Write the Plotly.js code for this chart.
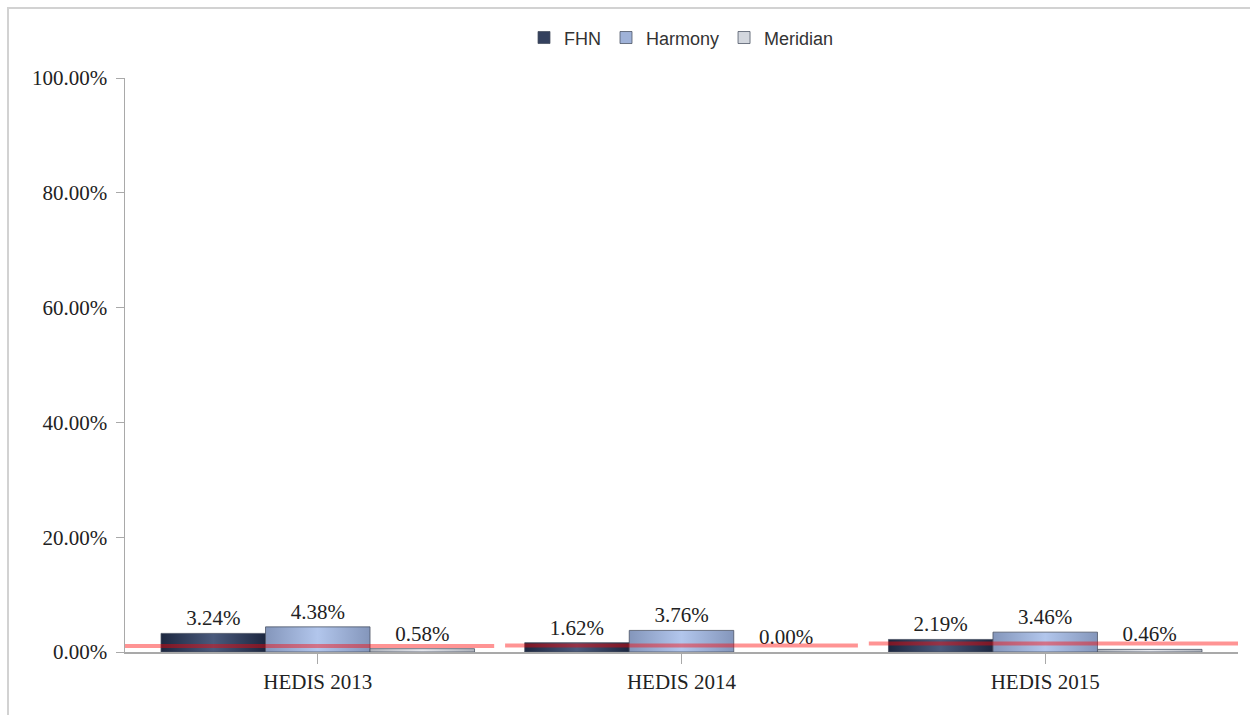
<!DOCTYPE html>
<html>
<head>
<meta charset="utf-8">
<script src="https://cdn.plot.ly/plotly-3.0.1.min.js"></script>
<style>
  html, body { margin: 0; padding: 0; background: #ffffff; overflow: hidden; }
  #frame { position: absolute; left: 7px; top: 7px; width: 1300px; height: 760px;
           border-top: 2px solid #d2d2d2; border-left: 2px solid #d2d2d2; }
  #chart { position: absolute; left: 0; top: 0; width: 1250px; height: 715px; }
</style>
</head>
<body>
<div id="frame"></div>
<div id="chart"></div>
<script>
// ---- data (percent values) ----
const categories = ["HEDIS 2013", "HEDIS 2014", "HEDIS 2015"];
const seriesNames = ["FHN", "Harmony", "Meridian"];
const fhnValues = [3.24, 1.62, 2.19];
const harmonyValues = [4.38, 3.76, 3.46];
const meridianValues = [0.58, 0.00, 0.46];
const benchmarkValues = [1.05, 1.13, 1.48];
const yTickValues = [0, 20, 40, 60, 80, 100];

const seriesValues = [fhnValues, harmonyValues, meridianValues];
const baseColors = ["#34415e", "#9fb2d8", "#d3d7de"];
const gradStops = [
  ["#1c2740", "#4a5a7c", "#1c2740"],
  ["#8496bb", "#b2c6ec", "#8496bb"],
  ["#aeb3bc", "#e6e8ee", "#aeb3bc"]
];

const serif = "Liberation Serif, Times New Roman, serif";
const sans = "Liberation Sans, Arial, sans-serif";

const traces = seriesNames.map((name, k) => ({
  type: "bar",
  name: name,
  x: categories,
  y: seriesValues[k],
  marker: {
    color: baseColors[k],
    line: { color: "rgba(70,78,95,0.75)", width: seriesValues[k].map(v => v === 0 ? 0 : 1) }
  },
  texttemplate: "%{y:.2f}%",
  textposition: "outside",
  cliponaxis: false,
  textfont: { family: serif, size: 21, color: "#222222" },
  hoverinfo: "skip"
}));

const xMin = -0.53, xMax = 2.53;
const shapes = benchmarkValues.map((v, i) => ({
  type: "line",
  xref: "x", yref: "y",
  x0: i === 0 ? xMin : i - 0.485,
  x1: i === benchmarkValues.length - 1 ? xMax : i + 0.485,
  y0: v, y1: v,
  layer: "above",
  line: { color: "rgba(255,0,0,0.42)", width: 4 }
}));

const layout = {
  width: 1250, height: 715,
  margin: { l: 125, r: 12, t: 78, b: 63 },
  paper_bgcolor: "rgba(0,0,0,0)",
  plot_bgcolor: "rgba(0,0,0,0)",
  barmode: "group",
  bargap: 0.138,
  bargroupgap: 0,
  showlegend: true,
  legend: {
    orientation: "h", x: 0.5, xanchor: "center", y: 1.07, yanchor: "middle",
    font: { family: sans, size: 18, color: "#333333" },
    itemclick: false, itemdoubleclick: false
  },
  xaxis: {
    type: "category",
    range: [xMin, xMax],
    showline: true, linecolor: "#a9a9a9", linewidth: 1.5,
    ticks: "outside", ticklen: 10, tickcolor: "#a9a9a9", tickwidth: 1,
    tickfont: { family: serif, size: 21, color: "#222222" },
    showgrid: false, zeroline: false, fixedrange: true
  },
  yaxis: {
    range: [0, 100],
    tickvals: yTickValues,
    ticktext: yTickValues.map(v => v.toFixed(2) + "%"),
    showline: true, linecolor: "#a9a9a9", linewidth: 1.5,
    ticks: "outside", ticklen: 8, tickcolor: "#a9a9a9", tickwidth: 1,
    ticklabelstandoff: 4,
    tickfont: { family: serif, size: 21, color: "#222222" },
    showgrid: false, zeroline: false, fixedrange: true
  },
  shapes: shapes
};

function applyGradients(gd) {
  const svg = gd.querySelector("svg.main-svg");
  if (!svg) return;
  let defs = svg.querySelector("defs");
  if (!defs) { defs = document.createElementNS("http://www.w3.org/2000/svg", "defs"); svg.insertBefore(defs, svg.firstChild); }
  gradStops.forEach((stops, k) => {
    const g = document.createElementNS("http://www.w3.org/2000/svg", "linearGradient");
    g.setAttribute("id", "barGrad" + k);
    g.setAttribute("x1", "0"); g.setAttribute("y1", "0");
    g.setAttribute("x2", "1"); g.setAttribute("y2", "0");
    [0, 0.5, 1].forEach((off, j) => {
      const s = document.createElementNS("http://www.w3.org/2000/svg", "stop");
      s.setAttribute("offset", off);
      s.setAttribute("stop-color", stops[j]);
      g.appendChild(s);
    });
    defs.appendChild(g);
  });
  gd.querySelectorAll(".barlayer .trace.bars").forEach((tr, k) => {
    tr.querySelectorAll(".point path").forEach(p => { p.style.fill = "url(#barGrad" + k + ")"; });
  });
}

Plotly.newPlot("chart", traces, layout, { displayModeBar: false, staticPlot: true })
  .then(applyGradients);
</script>
</body>
</html>
